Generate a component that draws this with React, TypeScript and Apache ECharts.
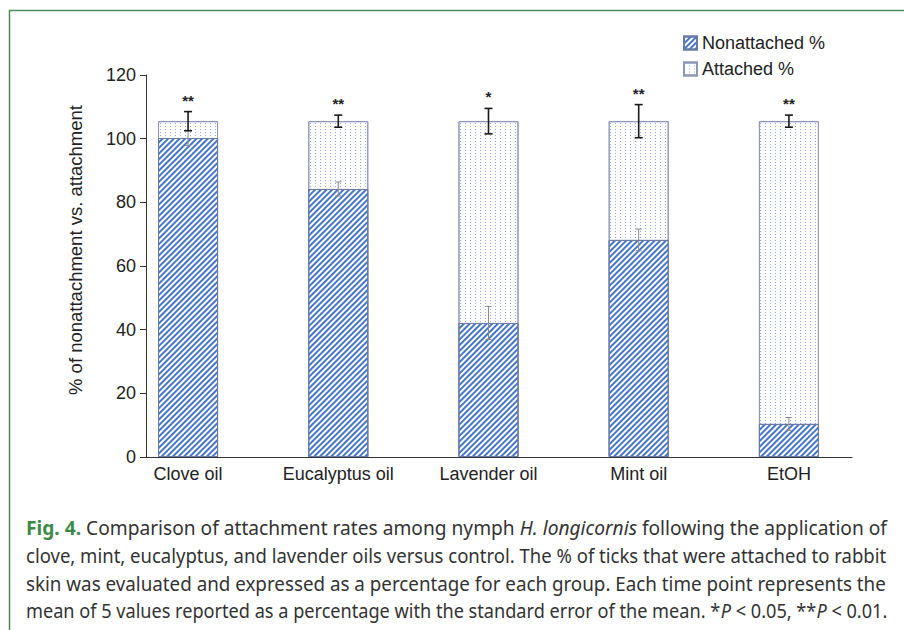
import React, { useEffect, useRef } from "react";
import * as echarts from "echarts";

const categories = ["Clove oil", "Eucalyptus oil", "Lavender oil", "Mint oil", "EtOH"];
const nonattached = [100.2, 84.2, 42.1, 68.2, 10.4];
const attached = [5.3, 21.3, 63.4, 37.3, 95.1];
const nonattachedSem = [2.3, 2.2, 5.2, 3.4, 2.0];
const attachedSem = [3.0, 1.9, 4.0, 5.2, 1.9];
const significance = ["**", "**", "*", "**", "**"];
const seriesNames = ["Nonattached %", "Attached %"];
const yAxisTitle = "% of nonattachment vs. attachment";

// caption: segments [text, style]
const captionLines: [string, string][][] = [
  [["Fig. 4.", "b"], [" Comparison of attachment rates among nymph ", ""], ["H. longicornis", "i"], [" following the application of", ""]],
  [["clove, mint, eucalyptus, and lavender oils versus control. The % of ticks that were attached to rabbit", ""]],
  [["skin was evaluated and expressed as a percentage for each group. Each time point represents the", ""]],
  [["mean of 5 values reported as a percentage with the standard error of the mean. *", ""], ["P", "i"], [" < 0.05, **", ""], ["P", "i"], [" < 0.01.", ""]],
];

const CAP_FONT = "'Noto Sans', 'Open Sans', sans-serif";
const CAP_SIZE = 20;
const BASE_FONT = "'Liberation Sans', Arial, sans-serif";

function measure(ctx: CanvasRenderingContext2D, text: string, kind: string) {
  const weight = kind === "b" ? "bold " : "";
  const style = kind === "i" ? "italic " : "";
  ctx.font = `${style}${weight}${CAP_SIZE}px ${CAP_FONT}`;
  return ctx.measureText(text).width;
}

export default function App() {
  const ref = useRef<HTMLDivElement>(null);
  useEffect(() => {
    if (!ref.current) return;
    const chart = echarts.init(ref.current, null, { renderer: "svg" });
    const canvas = document.createElement("canvas");
    const ctx = canvas.getContext("2d") as CanvasRenderingContext2D;
    const capLeft = 26;
    const capRight = 887;
    const capY = [527, 555, 583, 611];
    const captionGraphics = captionLines.map((segs, i) => {
      let w = 0;
      segs.forEach(([t, k]) => (w += measure(ctx, t, k)));
      const scale = (capRight - capLeft) / w;
      const text = segs.map(([t, k]) => (k ? `{${k}|${t}}` : `{n|${t}}`)).join("");
      return {
        type: "text",
        x: capLeft,
        y: capY[i],
        scaleX: scale,
        silent: true,
        style: {
          text,
          fontFamily: CAP_FONT,
          fontSize: CAP_SIZE,
          fill: "#333",
          verticalAlign: "middle",
          rich: {
            n: { fontFamily: CAP_FONT, fontSize: CAP_SIZE, fill: "#333" },
            b: { fontFamily: CAP_FONT, fontSize: CAP_SIZE, fontWeight: "bold", fill: "#3d8a48" },
            i: { fontFamily: CAP_FONT, fontSize: CAP_SIZE, fontStyle: "italic", fill: "#333" },
          },
        },
      };
    });

    const totals = nonattached.map((v, i) => v + attached[i]);
    const nonErrData = nonattached.map((v, i) => [i, v - nonattachedSem[i], v + nonattachedSem[i]]);
    const attErrData = totals.map((v, i) => [i, v - attachedSem[i], v + attachedSem[i]]);

    const makeErr = (color: string, width: number, cap: number, withStars: boolean) =>
      (params: any, api: any) => {
        const x = api.value(0);
        const lo = api.coord([x, api.value(1)]);
        const hi = api.coord([x, api.value(2)]);
        const children: any[] = [
          { type: "line", shape: { x1: lo[0], y1: lo[1], x2: hi[0], y2: hi[1] }, style: { stroke: color, lineWidth: width } },
          { type: "line", shape: { x1: lo[0] - cap, y1: lo[1], x2: lo[0] + cap, y2: lo[1] }, style: { stroke: color, lineWidth: width } },
          { type: "line", shape: { x1: hi[0] - cap, y1: hi[1], x2: hi[0] + cap, y2: hi[1] }, style: { stroke: color, lineWidth: width } },
        ];
        if (withStars) {
          children.push({
            type: "text",
            x: hi[0],
            y: hi[1] - 4,
            style: {
              text: significance[params.dataIndex],
              fontSize: 15,
              fontWeight: "bold",
              fontFamily: BASE_FONT,
              fill: "#222",
              align: "center",
              verticalAlign: "bottom",
            },
          });
        }
        return { type: "group", children };
      };

    chart.setOption({
      animation: false,
      backgroundColor: "#ffffff",
      textStyle: { fontFamily: BASE_FONT },
      grid: { left: 146, right: 52, top: 75, bottom: 173, containLabel: false },
      legend: {
        data: seriesNames,
        orient: "vertical",
        left: 683,
        top: 34,
        padding: 0,
        itemWidth: 13,
        itemHeight: 13,
        itemGap: 8,
        icon: "rect",
        selectedMode: false,
        textStyle: { fontSize: 18, color: "#222" },
      },
      xAxis: {
        type: "value",
        min: -0.28,
        max: 4.42,
        splitLine: { show: false },
        axisTick: { show: false },
        axisLine: { show: true, onZero: false, lineStyle: { color: "#333", width: 1 } },
        axisLabel: {
          customValues: [0, 1, 2, 3, 4],
          formatter: (v: number) => (Number.isInteger(v) ? categories[v] : ""),
          fontSize: 18,
          color: "#222",
          margin: 8,
        },
      },
      yAxis: {
        type: "value",
        min: 0,
        max: 120,
        interval: 20,
        name: yAxisTitle,
        nameLocation: "middle",
        nameGap: 61,
        nameTextStyle: { fontSize: 18.5, color: "#222", padding: [0, 0, 0, 32] },
        splitLine: { show: false },
        axisLine: { show: true, onZero: false, lineStyle: { color: "#333", width: 1 } },
        axisTick: { show: true, length: 6, lineStyle: { color: "#333" } },
        axisLabel: { fontSize: 18, color: "#222", margin: 10 },
      },
      graphic: [
        {
          type: "rect",
          silent: true,
          shape: { x: 9.5, y: 10.5, width: 1200, height: 1200 },
          style: { fill: "none", stroke: "#4f8a5a", lineWidth: 1.5 },
          z: -10,
        },
        ...captionGraphics,
      ],
      series: [
        {
          name: seriesNames[1],
          type: "bar",
          barWidth: 60,
          barGap: "-100%",
          data: totals.map((v, i) => [i, v]),
          itemStyle: {
            color: "#ffffff",
            borderColor: "#8e97b8",
            borderWidth: 1,
            decal: {
              symbol: "rect",
              symbolSize: 1,
              dashArrayX: [1, 4],
              dashArrayY: [1, 2],
              rotation: 0,
              color: "#90abe0",
              backgroundColor: "#ffffff",
            },
          },
          emphasis: { disabled: true },
        },
        {
          name: seriesNames[0],
          type: "bar",
          barWidth: 60,
          barGap: "-100%",
          data: nonattached.map((v, i) => [i, v]),
          itemStyle: {
            color: "#ffffff",
            borderColor: "#6a79a6",
            borderWidth: 1,
            decal: {
              symbol: "rect",
              symbolSize: 1,
              dashArrayX: [[1, 0]],
              dashArrayY: [1.3, 1.7],
              rotation: -Math.PI / 4,
              color: "#4676c8",
              backgroundColor: "#ffffff",
            },
          },
          emphasis: { disabled: true },
        },
        {
          type: "custom",
          name: "nonErr",
          renderItem: makeErr("#8a8a8a", 1, 3, false),
          data: nonErrData,
          encode: { x: 0, y: [1, 2] },
          z: 5,
          silent: true,
        },
        {
          type: "custom",
          name: "attErr",
          renderItem: makeErr("#1a1a1a", 1.6, 4, true),
          data: attErrData,
          encode: { x: 0, y: [1, 2] },
          z: 6,
          silent: true,
        },
      ],
    });
    return () => chart.dispose();
  }, []);
  return <div ref={ref} style={{ position: "fixed", left: 0, top: 0, width: 904, height: 630 }} />;
}
